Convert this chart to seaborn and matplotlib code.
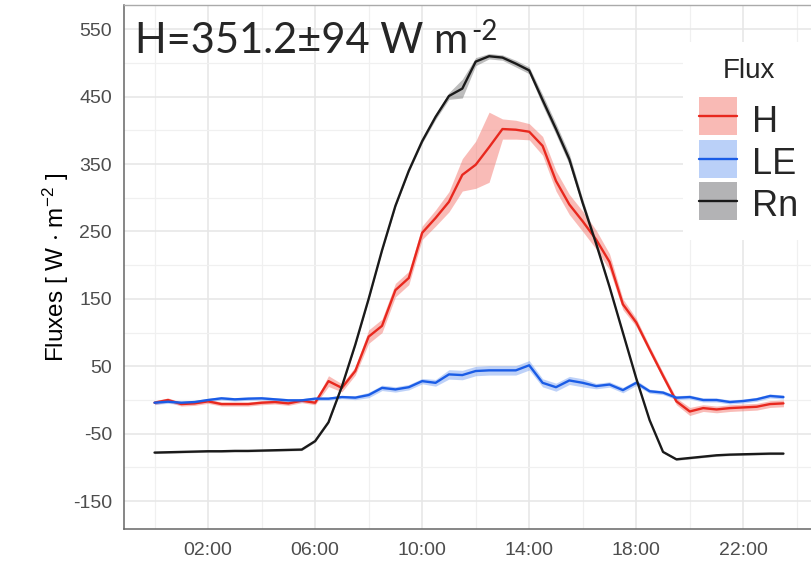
import numpy as np
import pandas as pd
import seaborn as sns
import matplotlib
matplotlib.use("Agg")
import matplotlib.pyplot as plt
from matplotlib.patches import Patch, Rectangle
from matplotlib.lines import Line2D
from matplotlib.legend_handler import HandlerPatch

# --- dados (médias de meia em meia hora) ---
horas = [0.0, 0.5, 1.0, 1.5, 2.0, 2.5, 3.0, 3.5, 4.0, 4.5, 5.0, 5.5,
         6.0, 6.5, 7.0, 7.5, 8.0, 8.5, 9.0, 9.5, 10.0, 10.5, 11.0, 11.5,
         12.0, 12.5, 13.0, 13.5, 14.0, 14.5, 15.0, 15.5, 16.0, 16.5, 17.0, 17.5,
         18.0, 18.5, 19.0, 19.5, 20.0, 20.5, 21.0, 21.5, 22.0, 22.5, 23.0, 23.5]

h_media = [-4, 0, -6, -5, -2, -6, -6, -6, -4, -3, -5, -1,
           -4, 28, 18, 43, 94, 110, 163, 181, 248, 270, 294, 334,
           349, 375, 402, 401, 398, 377, 325, 290, 265, 238, 205, 142,
           115, 75, 36, -2, -17, -12, -14, -12, -11, -10, -6, -5]
h_erro = [3, 3, 3, 3, 3, 3, 3, 3, 3, 3, 3, 3,
          3, 8, 6, 6, 10, 10, 10, 10, 10, 12, 15, 24,
          35, 52, 15, 14, 12, 14, 15, 15, 15, 14, 12, 8,
          6, 5, 5, 5, 6, 5, 5, 5, 5, 5, 5, 5]

le_media = [-4, -2.5, -4, -3, 0, 2.5, 1, 2, 2.5, 1, -0.5, -0.5,
            2, 2, 4.4, 3.5, 7.4, 18, 15.7, 19, 28, 25.5, 38, 37,
            43, 44, 44, 44, 51.5, 25.5, 19, 29, 25.5, 20.6, 23, 14.7,
            25.5, 13, 11, 3.4, 4.4, 0, 0, -3, -1.5, 1, 6, 4.4]
le_erro = [2.5, 2.5, 2.5, 2.5, 2.5, 2.5, 2.5, 2.5, 2.5, 2.5, 2.5, 2.5,
           2.5, 2.5, 2.5, 3, 4, 4, 4, 4, 4, 5, 7, 7,
           7, 7, 7, 7, 7, 6, 6, 6, 6, 4, 4, 4,
           4, 3, 3, 3, 3, 3, 3, 3, 3, 3, 3, 3]

rn_media = [-78, -77.5, -77, -76.5, -76, -76, -75.5, -75.5, -75, -74.5, -74, -73.5,
            -61, -33, 20, 82, 150, 222, 288, 340, 384, 420, 451, 462,
            502, 510, 508, 499, 489, 445, 402, 357, 292, 232, 168, 100,
            32, -30, -77, -88, -86, -84, -82, -81, -80.5, -80, -79.5, -79.5]
rn_erro = [1.5, 1.5, 1.5, 1.5, 1.5, 1.5, 1.5, 1.5, 1.5, 1.5, 1.5, 1.5,
           1.5, 1.5, 1.5, 1.5, 1.5, 1.5, 2, 2, 3, 4, 5, 14,
           6, 4, 4, 5, 5, 8, 8, 8, 6, 5, 2, 2,
           1.5, 1.5, 1.5, 1.5, 1.5, 1.5, 1.5, 1.5, 1.5, 1.5, 1.5, 1.5]

fluxos = ['H', 'LE', 'Rn']
cores_linha = {'H': '#E8281E', 'LE': '#1A5CE6', 'Rn': '#1A1A1A'}
cores_faixa = {'H': '#F26A60', 'LE': '#6F9BF0', 'Rn': '#6E6E6E'}
# mesmas cores já misturadas com o branco, para as chaves da legenda
cores_chave = {'H': '#F9BAB5', 'LE': '#BAD0F8', 'Rn': '#B3B3B5'}

ticks_y = [-150, -50, 50, 150, 250, 350, 450, 550]
ticks_x = [2, 6, 10, 14, 18, 22]
rotulos_x = ['02:00', '06:00', '10:00', '14:00', '18:00', '22:00']

# --- tabela longa para o seaborn ---
medias = {'H': h_media, 'LE': le_media, 'Rn': rn_media}
erros = {'H': h_erro, 'LE': le_erro, 'Rn': rn_erro}
df = pd.concat([pd.DataFrame({'hora': horas, 'valor': medias[f], 'erro': erros[f], 'Flux': f})
                for f in fluxos], ignore_index=True)

sns.set_style('white')
plt.rcParams['font.family'] = ['Liberation Sans', 'DejaVu Sans']
plt.rcParams['mathtext.fontset'] = 'custom'
plt.rcParams['mathtext.rm'] = 'Liberation Sans'
plt.rcParams['mathtext.default'] = 'regular'
plt.rcParams['axes.unicode_minus'] = False

fig = plt.figure(figsize=(8.11, 5.65), dpi=100)
ax = fig.add_axes([124.3 / 811, (565 - 529.3) / 565, (813.7 - 124.3) / 811, (529.3 - 5) / 565])

# faixas de erro
for f in fluxos:
    d = df[df['Flux'] == f]
    ax.fill_between(d['hora'], d['valor'] - d['erro'], d['valor'] + d['erro'],
                    color=cores_faixa[f], alpha=0.45, lw=0, zorder=2)

sns.lineplot(data=df, x='hora', y='valor', hue='Flux', palette=cores_linha,
             errorbar=None, lw=1.7, legend=False, ax=ax, zorder=3)

ax.set_xlim(-1.13, 24.63)
ax.set_ylim(-191.8, 586)
ax.set_xticks(ticks_x)
ax.set_xticklabels(rotulos_x)
ax.set_xticks([0, 4, 8, 12, 16, 20, 24], minor=True)
ax.set_yticks(ticks_y)
ax.set_yticks([-100, 0, 100, 200, 300, 400, 500], minor=True)
ax.grid(which='major', color='#E6E6E6', lw=1.1, zorder=0)
ax.grid(which='minor', color='#F0F0F0', lw=0.9, zorder=0)
ax.set_axisbelow(True)
ax.tick_params(which='major', length=4.3, width=1.1, color='#333333',
               labelsize=14, labelcolor='#4D4D4D', pad=4.5)
ax.tick_params(which='minor', length=0)
for lado in ['left', 'bottom']:
    ax.spines[lado].set_color('#666666')
    ax.spines[lado].set_linewidth(1.1)
for lado in ['top', 'right']:
    ax.spines[lado].set_color('#AAAAAA')
    ax.spines[lado].set_linewidth(1.0)

ax.set_xlabel('')
ax.set_ylabel(r'Fluxes [ W $\cdot$ m$^{-2}$ ]', fontsize=17.5, color='black')
ax.yaxis.set_label_coords(-0.077, 0.5)

# texto principal com expoente
t = fig.text(135 / 811, 1 - 53 / 565, 'H=351.2±94 W m', fontsize=30,
             family=['Lato', 'DejaVu Sans'], va='baseline', ha='left')
fig.canvas.draw()
bb = t.get_window_extent()
fig.text((bb.x1 + 3) / 811, 1 - 40 / 565, '-2', fontsize=20,
         family=['Lato', 'DejaVu Sans'], va='baseline', ha='left')


# chave da legenda: quadrado de altura fixa centrado na linha
def chave_quadrada(legend, orig_handle, xdescent, ydescent, width, height, fontsize):
    lado = 27.3
    centro = (height - ydescent) / 2
    return Rectangle((-xdescent, centro - lado / 2), width, lado)


alcas = [(Patch(facecolor=cores_chave[f], lw=0),
          Line2D([], [], color=cores_linha[f], lw=1.7)) for f in fluxos]
leg = ax.legend(alcas, fluxos, title='Flux', loc='upper left',
                bbox_to_anchor=(683 / 811, 1 - 42 / 565), bbox_transform=fig.transFigure,
                fontsize=26, title_fontsize=20, frameon=True, fancybox=False,
                facecolor='white', edgecolor='none', framealpha=1,
                handlelength=1.05, handleheight=1.2, labelspacing=0.1,
                handletextpad=0.42, borderpad=0.45, borderaxespad=0,
                handler_map={Patch: HandlerPatch(patch_func=chave_quadrada)})
leg._legend_box.sep = 12

fig.savefig('out.png', dpi=100)
